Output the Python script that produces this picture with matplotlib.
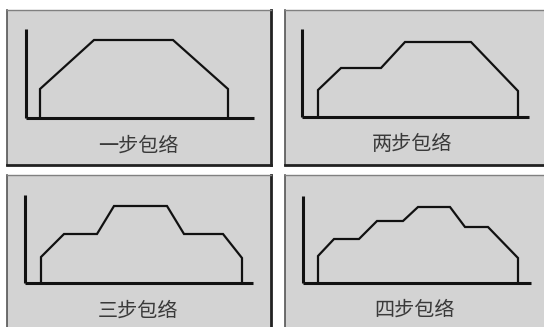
import matplotlib
matplotlib.use("Agg")
import matplotlib.pyplot as plt

plt.rcParams['font.family'] = ['Noto Sans CJK SC', 'DejaVu Sans']

W, H = 544, 327

titles = ["一步包络", "两步包络", "三步包络", "四步包络"]

# envelope curves: time (x) and level (y)
x1 = [14, 14, 68, 147, 202, 202]
y1 = [0, 29, 78, 78, 29, 0]
x2 = [16, 16, 39, 79, 103, 169, 216, 216]
y2 = [0, 27, 49, 49, 75, 75, 26, 0]
x3 = [16, 16, 39, 72, 89, 142, 159, 198, 217, 217]
y3 = [0, 26, 49, 49, 77, 77, 49, 49, 25, 0]
x4 = [15, 15, 31, 56, 74, 100, 115, 147, 162, 185, 215, 215]
y4 = [0, 27, 44, 44, 62, 62, 76, 76, 56, 56, 25, 0]
xs = [x1, x2, x3, x4]
ys = [y1, y2, y3, y4]

# layout in pixels (left, top, right, bottom)
panels = [(7, 10, 271, 165), (285, 10, 556, 165), (7, 175, 271, 340), (285, 175, 556, 340)]
inner = [(26, 29, 254, 118), (302, 29, 529, 117), (25, 195, 253, 283), (303, 196, 531, 283)]
text_pos = [(138, 146), (412, 145), (138, 311), (415, 310)]

fig = plt.figure(figsize=(W / 100, H / 100), dpi=100)
fig.patch.set_facecolor('white')

def rect(l, t, r, b):
    return [l / W, 1 - b / H, (r - l) / W, (b - t) / H]

for i in range(4):
    ax = fig.add_axes(rect(*panels[i]))
    ax.set_facecolor('#d3d3d3')
    ax.set_xticks([]); ax.set_yticks([])
    ax.spines['top'].set_color('#808080'); ax.spines['top'].set_linewidth(1.0)
    ax.spines['left'].set_color('#555555'); ax.spines['left'].set_linewidth(1.2)
    ax.spines['right'].set_color('#222222'); ax.spines['right'].set_linewidth(2.0)
    ax.spines['bottom'].set_color('#222222'); ax.spines['bottom'].set_linewidth(2.0)

    ia = fig.add_axes(rect(*inner[i]))
    ia.patch.set_alpha(0)
    ia.set_xticks([]); ia.set_yticks([])
    for s in ['top', 'right']:
        ia.spines[s].set_visible(False)
    for s in ['left', 'bottom']:
        ia.spines[s].set_color('#111111')
        ia.spines[s].set_linewidth(2.2)
        ia.spines[s].set_capstyle('butt')
    l, t, r, b = inner[i]
    ia.set_xlim(0, r - l)
    ia.set_ylim(0, b - t)
    ia.plot(xs[i], ys[i], color='#111111', lw=1.6, solid_joinstyle='miter', clip_on=False)

    tx, ty = text_pos[i]
    fig.text(tx / W, 1 - ty / H, titles[i], ha='center', va='center',
             fontsize=14.5, color='#3a3a3a')

fig.savefig('out.png', dpi=100, facecolor='white')
